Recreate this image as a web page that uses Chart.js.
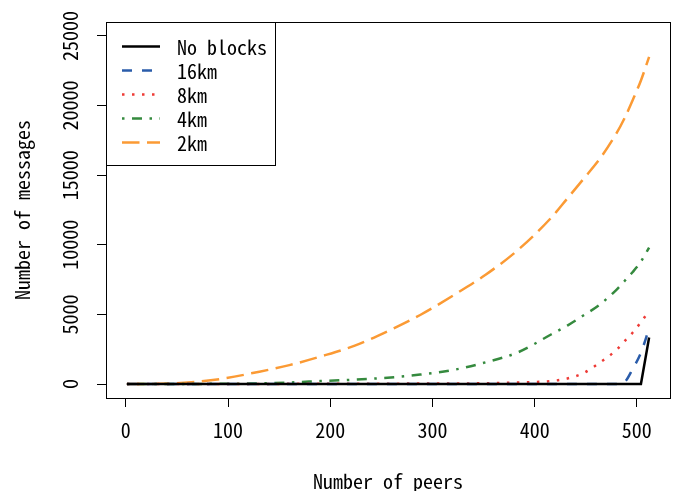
<!DOCTYPE html>
<html>
<head>
<meta charset="utf-8">
<script src="https://cdn.jsdelivr.net/npm/chart.js@4/dist/chart.umd.min.js"></script>
<style>
  html, body { margin: 0; padding: 0; background: #fff; }
  #wrap { width: 677px; height: 491px; }
</style>
</head>
<body>
<div id="wrap"><canvas id="chart" width="677" height="491"></canvas></div>
<script>
// Valores
var peers = [1, 32, 64, 96, 128, 160, 192, 224, 256, 288, 320, 352, 384, 416, 432, 448, 464, 480, 488, 496, 504, 512];

var noBlocks = [0, 0, 0, 0, 0, 0, 0, 0, 0, 0, 0, 0, 0, 0, 0, 0, 0, 0, 0, 0, 0, 3350];
var km16 = [0, 0, 0, 0, 0, 0, 0, 0, 0, 0, 0, 0, 0, 0, 0, 0, 0, 0, 150, 1100, 2250, 4000];
var km8 = [0, 0, 0, 5, 10, 15, 20, 25, 30, 35, 40, 60, 110, 220, 400, 800, 1550, 2450, 3080, 3700, 4440, 5250];
var km4 = [0, 0, 10, 20, 45, 115, 220, 320, 460, 680, 1010, 1560, 2290, 3560, 4200, 4940, 5720, 6770, 7400, 8050, 8800, 9800];
var km2 = [0, 20, 130, 400, 850, 1360, 2010, 2760, 3790, 4960, 6350, 7850, 9650, 11930, 13330, 14750, 16200, 18000, 19100, 20400, 21800, 23500];

var seriesNames = ["No blocks", "16km", "8km", "4km", "2km"];
var xTicks = [0, 100, 200, 300, 400, 500];
var yTicks = [0, 5000, 10000, 15000, 20000, 25000];

var FONT = "'Noto Sans Mono CJK KR', 'DejaVu Sans Mono', monospace";
var FONT_SIZE = 20;

function toPoints(values) {
    return peers.map(function(p, i) { return {x: p, y: values[i]}; });
}

// caixa em volta da área do gráfico
var boxPlugin = {
    id: 'box',
    afterDraw: function(chart) {
        var ctx = chart.ctx, a = chart.chartArea;
        ctx.save();
        ctx.strokeStyle = '#000';
        ctx.lineWidth = 1;
        ctx.strokeRect(Math.round(a.left) + 0.5, Math.round(a.top) + 0.5,
                       Math.round(a.right - a.left), Math.round(a.bottom - a.top));
        ctx.restore();
    }
};

// legenda no estilo do R (canto superior esquerdo)
var legendPlugin = {
    id: 'rlegend',
    afterDraw: function(chart) {
        var ctx = chart.ctx, a = chart.chartArea;
        var left = Math.round(a.left), top = Math.round(a.top);
        ctx.save();
        ctx.fillStyle = '#fff';
        ctx.fillRect(left, top, 169, 143);
        ctx.strokeStyle = '#000';
        ctx.lineWidth = 1;
        ctx.strokeRect(left + 0.5, top + 0.5, 169, 143);
        chart.data.datasets.forEach(function(ds, i) {
            var y = top + 25 + i * 24;
            ctx.beginPath();
            ctx.strokeStyle = ds.borderColor;
            ctx.lineWidth = ds.borderWidth;
            ctx.setLineDash(ds.borderDash || []);
            ctx.moveTo(left + 16, y - 0.5);
            ctx.lineTo(left + 54, y - 0.5);
            ctx.stroke();
            ctx.setLineDash([]);
            ctx.fillStyle = '#000';
            ctx.font = FONT_SIZE + 'px ' + FONT;
            ctx.textBaseline = 'middle';
            ctx.fillText(ds.label, left + 71, y + 0.5);
        });
        ctx.restore();
    }
};

var ctx = document.getElementById('chart').getContext('2d');
new Chart(ctx, {
    type: 'line',
    data: {
        datasets: [
            { label: seriesNames[0], data: toPoints(noBlocks), borderColor: '#000000', borderWidth: 2.5, tension: 0 },
            { label: seriesNames[1], data: toPoints(km16), borderColor: '#2a5caa', borderWidth: 2.5, borderDash: [10, 10], cubicInterpolationMode: 'monotone' },
            { label: seriesNames[2], data: toPoints(km8), borderColor: '#ee3b36', borderWidth: 2.5, borderDash: [2.5, 7.5], cubicInterpolationMode: 'monotone' },
            { label: seriesNames[3], data: toPoints(km4), borderColor: '#358a3e', borderWidth: 2.5, borderDash: [2.5, 7.5, 10, 7.5], cubicInterpolationMode: 'monotone' },
            { label: seriesNames[4], data: toPoints(km2), borderColor: '#fb9a34', borderWidth: 2.5, borderDash: [17.5, 7.5], cubicInterpolationMode: 'monotone' }
        ]
    },
    options: {
        responsive: false,
        animation: false,
        devicePixelRatio: 1,
        elements: { point: { radius: 0 }, line: { borderCapStyle: 'butt' } },
        layout: { padding: { top: 22, right: 7, left: 0, bottom: 0 } },
        plugins: { legend: { display: false }, tooltip: { enabled: false } },
        scales: {
            x: {
                type: 'linear',
                min: -19.44,
                max: 532.44,
                afterBuildTicks: function(s) { s.ticks = xTicks.map(function(v) { return {value: v}; }); },
                afterFit: function(s) { s.height = 93; },
                border: { display: false },
                grid: { drawOnChartArea: false, drawTicks: true, tickLength: 9, color: '#000', lineWidth: 1 },
                ticks: {
                    color: '#000', padding: 13, maxRotation: 0,
                    font: { family: FONT, size: FONT_SIZE, lineHeight: 1 },
                    callback: function(v) { return String(v); }
                },
                title: {
                    display: true, text: 'Number of peers', color: '#000',
                    font: { family: FONT, size: FONT_SIZE, lineHeight: 1 },
                    padding: { top: 0, bottom: 0 }
                }
            },
            y: {
                type: 'linear',
                min: -1000,
                max: 26000,
                afterBuildTicks: function(s) { s.ticks = yTicks.map(function(v) { return {value: v}; }); },
                afterFit: function(s) { s.width = 106; },
                border: { display: false },
                grid: { drawOnChartArea: false, drawTicks: true, tickLength: 9, color: '#000', lineWidth: 1 },
                ticks: {
                    color: '#000', padding: 2, minRotation: 90, maxRotation: 90, crossAlign: 'center',
                    font: { family: FONT, size: FONT_SIZE, lineHeight: 1 },
                    callback: function(v) { return String(v); }
                },
                title: {
                    display: true, text: 'Number of messages', color: '#000',
                    font: { family: FONT, size: FONT_SIZE, lineHeight: 1 },
                    padding: { top: 12, bottom: 0 }
                }
            }
        }
    },
    plugins: [boxPlugin, legendPlugin]
});
</script>
</body>
</html>
